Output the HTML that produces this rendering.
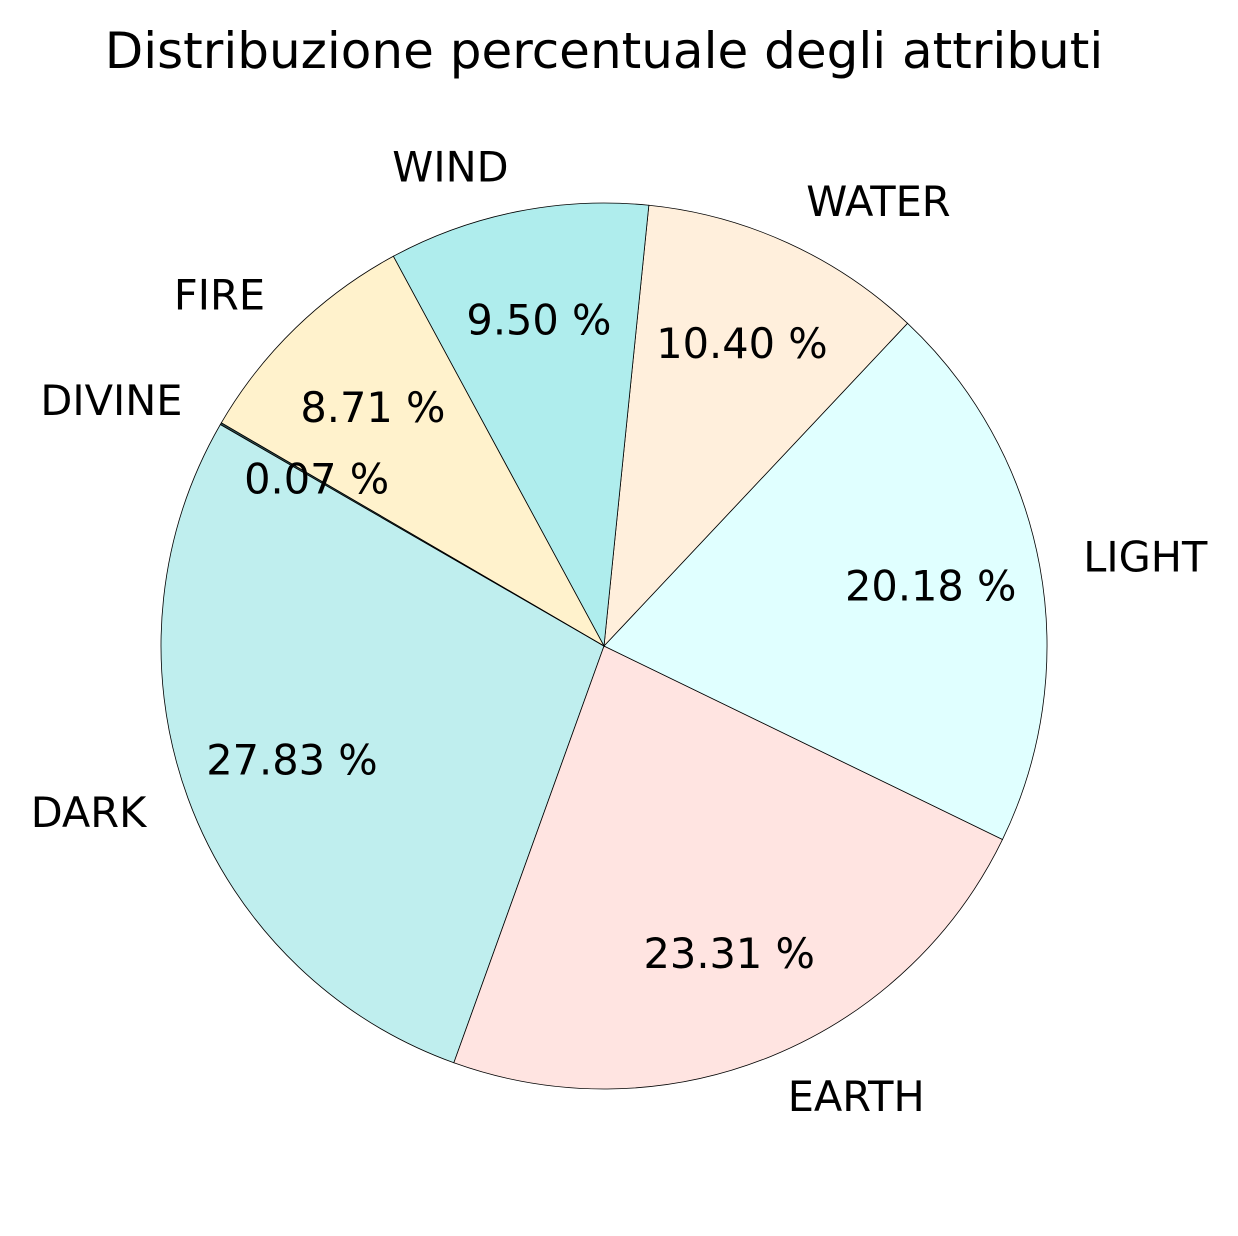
<!DOCTYPE html>
<html><head><meta charset="utf-8"><style>
html,body{margin:0;padding:0;background:#fff;}
svg text{font-family:"DejaVu Sans","Liberation Sans",sans-serif;fill:#000;}
</style></head><body>
<svg id="chart" width="1238" height="1231" viewBox="0 0 1238 1231" xmlns="http://www.w3.org/2000/svg">
<text x="604" y="68" text-anchor="middle" font-size="50">Distribuzione percentuale degli attributi</text>
<g id="slices"></g>
<g id="labels"></g>
</svg>
<script>
const categories = ["DARK","EARTH","LIGHT","WATER","WIND","FIRE","DIVINE"];
const values = [27.83, 23.31, 20.18, 10.40, 9.50, 8.71, 0.07];
const colors = ["#bfeeee","#ffe4e1","#e0ffff","#ffefdc","#afeded","#fff2cc","#2f4f4f"];
const cx = 604, cy = 646, R = 443, startAngle = 150;
const ns = "http://www.w3.org/2000/svg";
const total = values.reduce((a,b)=>a+b,0);
const gS = document.getElementById("slices"), gL = document.getElementById("labels");
function pt(deg, r){const a=deg*Math.PI/180;return [cx+r*Math.cos(a), cy-r*Math.sin(a)];}
let ang = startAngle;
values.forEach((v,i)=>{
  const sweep = v/total*360, a0 = ang, a1 = ang+sweep;
  const p0 = pt(a0,R), p1 = pt(a1,R);
  const path = document.createElementNS(ns,"path");
  path.setAttribute("d",`M${cx},${cy} L${p0[0]},${p0[1]} A${R},${R} 0 ${sweep>180?1:0} 0 ${p1[0]},${p1[1]} Z`);
  path.setAttribute("fill",colors[i]);path.setAttribute("stroke","#000");path.setAttribute("stroke-width","0.8");
  
  
  gS.appendChild(path);
  const mid = (a0+a1)/2, m = mid*Math.PI/180;
  const lp = pt(mid, R*1.1);
  const t = document.createElementNS(ns,"text");
  t.setAttribute("x",lp[0]);t.setAttribute("y",lp[1]-1);t.setAttribute("font-size","41.5");
  t.setAttribute("dominant-baseline","central");
  t.setAttribute("text-anchor", Math.cos(m)>=0?"start":"end");
  t.textContent = categories[i];
  
  
  gL.appendChild(t);
  const pp = pt(mid, R*0.75);
  const tp = document.createElementNS(ns,"text");
  tp.setAttribute("x",pp[0]);tp.setAttribute("y",pp[1]);tp.setAttribute("font-size","41.5");
  tp.setAttribute("dominant-baseline","central");tp.setAttribute("text-anchor","middle");
  tp.textContent = v.toFixed(2)+" %";
  
  
  gL.appendChild(tp);
  ang = a1;
});
</script>
</body></html>
